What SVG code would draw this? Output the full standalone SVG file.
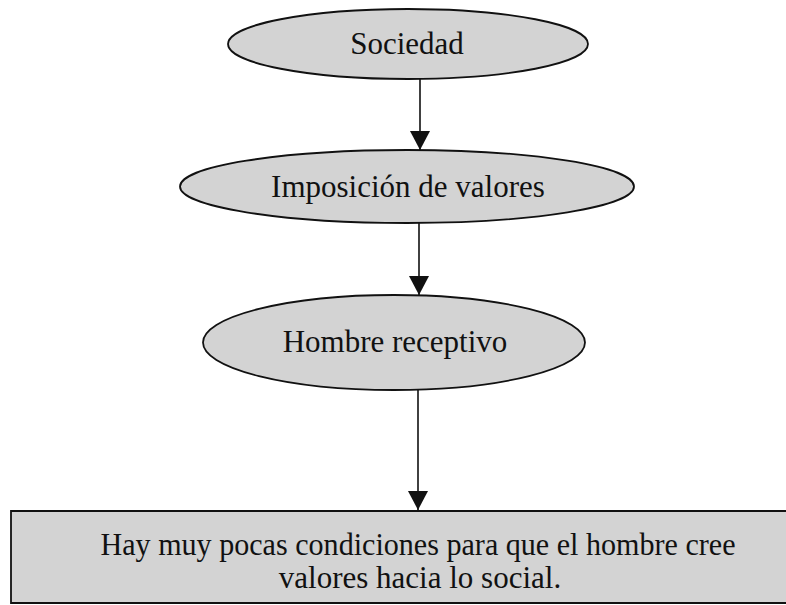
<svg xmlns="http://www.w3.org/2000/svg" width="786" height="605" viewBox="0 0 786 605">
<style>
.shape{fill:#d3d3d3;stroke:#111;stroke-width:1.8}
.lbl{font-family:"Liberation Serif","Times New Roman",serif;font-size:31px;fill:#111;text-anchor:middle}
.conn{stroke:#111;stroke-width:1.6;fill:none}
.head{fill:#111}
</style>
<rect width="786" height="605" fill="#fff"/>
<g id="connectors">
<line class="conn" x1="420" y1="79" x2="420" y2="150"/>
<path class="head" d="M410,131 L430,131 L420,150 Z"/>
<line class="conn" x1="419" y1="223" x2="419" y2="295"/>
<path class="head" d="M409,276 L429,276 L419,295 Z"/>
<line class="conn" x1="418" y1="390" x2="418" y2="510"/>
<path class="head" d="M408,491 L428,491 L418,510 Z"/>
</g>
<g id="node-sociedad">
<ellipse class="shape" cx="408" cy="44" rx="180" ry="35"/>
<text class="lbl" x="407" y="54">Sociedad</text>
</g>
<g id="node-imposicion">
<ellipse class="shape" cx="407" cy="186.5" rx="227" ry="36.5"/>
<text class="lbl" x="408" y="197" font-size="32">Imposición de valores</text>
</g>
<g id="node-hombre">
<ellipse class="shape" cx="394" cy="342.5" rx="191" ry="47.5"/>
<text class="lbl" x="395" y="352">Hombre receptivo</text>
</g>
<g id="node-conclusion">
<path class="shape" d="M788,511 L11,511 L11,603 L788,603"/>
<text class="lbl" x="418" y="555" textLength="635" lengthAdjust="spacingAndGlyphs">Hay muy pocas condiciones para que el hombre cree</text>
<text class="lbl" x="420" y="588">valores hacia lo social.</text>
</g>
</svg>
